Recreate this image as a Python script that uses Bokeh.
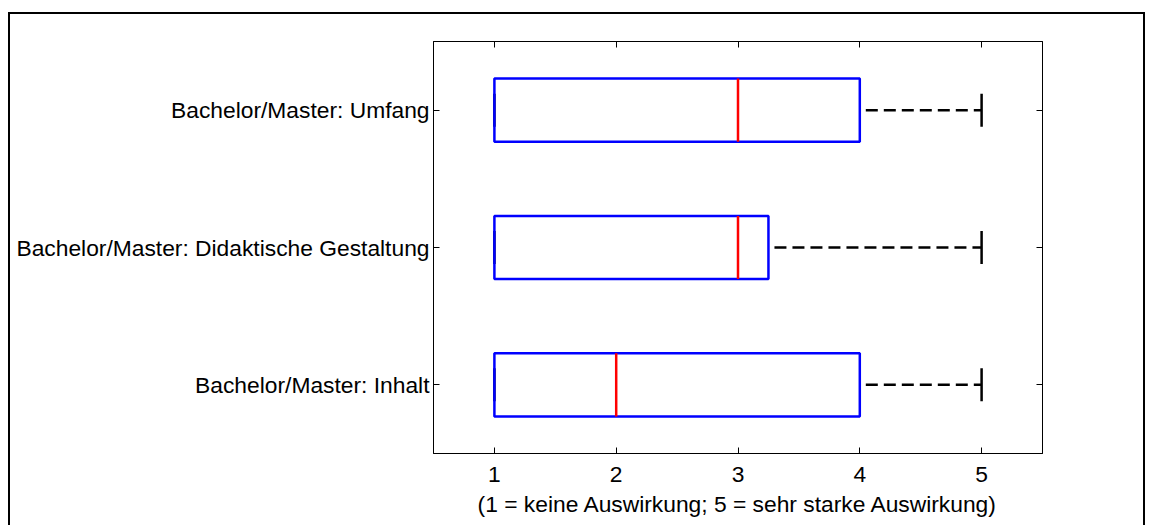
from bokeh.plotting import figure
from bokeh.models import Range1d, LinearAxis, FixedTicker, ColumnDataSource
from bokeh.embed import file_html
from bokeh.resources import INLINE

categories = ["Bachelor/Master: Inhalt",
              "Bachelor/Master: Didaktische Gestaltung",
              "Bachelor/Master: Umfang"]
q1 = [1, 1, 1]
median = [2, 3, 3]
q3 = [4, 3.25, 4]
whisker_lo = [1, 1, 1]
whisker_hi = [5, 5, 5]
x_ticks = [1, 2, 3, 4, 5]
x_label = "(1 = keine Auswirkung; 5 = sehr starke Auswirkung)"

FONT = "Liberation Sans"
FS = "22.8px"
BOX_H = 0.46
CAP_H = 0.24

y_pos = [i + 1 for i in range(len(categories))]
src = ColumnDataSource(dict(
    y=y_pos, q1=q1, med=median, q3=q3, lo=whisker_lo, hi=whisker_hi,
    yb0=[y - BOX_H / 2 for y in y_pos], yb1=[y + BOX_H / 2 for y in y_pos],
    yc0=[y - CAP_H / 2 for y in y_pos], yc1=[y + CAP_H / 2 for y in y_pos]))

p = figure(width=1137, height=513, output_backend="svg", toolbar_location=None,
           y_range=Range1d(0.5, len(categories) + 0.5), x_range=Range1d(0.5, 5.5),
           min_border_left=423, min_border_right=105, min_border_top=27, min_border_bottom=74,
           x_axis_location=None, y_axis_location=None)
p.styles = {"border-top": "2px solid black", "border-left": "2px solid black",
            "border-right": "2px solid black", "margin-top": "12px", "margin-left": "8px"}
p.grid.visible = False
p.outline_line_color = "black"
p.outline_line_width = 1
p.background_fill_color = "white"
p.border_fill_color = "white"

def style_axis(ax):
    ax.major_tick_in = 6
    ax.major_tick_out = 0
    ax.minor_tick_line_color = None
    ax.axis_line_color = "black"
    ax.major_tick_line_color = "black"
    ax.major_label_text_font = FONT
    ax.major_label_text_font_size = FS
    ax.major_label_text_color = "black"

xb = LinearAxis(ticker=FixedTicker(ticks=x_ticks))
style_axis(xb)
xb.major_label_standoff = 13
xb.axis_label = x_label
xb.axis_label_text_font = FONT
xb.axis_label_text_font_size = FS
xb.axis_label_text_font_style = "normal"
xb.axis_label_text_color = "black"
xb.axis_label_standoff = 6
p.add_layout(xb, "below")

xt = LinearAxis(ticker=FixedTicker(ticks=x_ticks))
style_axis(xt)
xt.major_label_overrides = {t: "" for t in x_ticks}
xt.major_label_standoff = 0
p.add_layout(xt, "above")

yl = LinearAxis(ticker=FixedTicker(ticks=y_pos))
style_axis(yl)
yl.major_label_overrides = {y: c for y, c in zip(y_pos, categories)}
yl.major_label_standoff = 4
p.add_layout(yl, "left")

yr = LinearAxis(ticker=FixedTicker(ticks=y_pos))
style_axis(yr)
yr.major_label_overrides = {y: "" for y in y_pos}
yr.major_label_standoff = 0
p.add_layout(yr, "right")

# whiskers (dashed)
p.segment(x0="q3", x1="hi", y0="y", y1="y", source=src, line_color="black",
          line_width=2.5, line_dash="12 6", line_dash_offset=12)
p.segment(x0="lo", x1="q1", y0="y", y1="y", source=src, line_color="black",
          line_width=2.5, line_dash="12 6")
# caps
p.segment(x0="hi", x1="hi", y0="yc0", y1="yc1", source=src, line_color="black", line_width=2.5)
p.segment(x0="lo", x1="lo", y0="yc0", y1="yc1", source=src, line_color="black", line_width=2.5)
# boxes
p.quad(left="q1", right="q3", bottom="yb0", top="yb1", source=src, fill_color=None,
       line_color="#0000FF", line_width=2.5)
# medians
p.segment(x0="med", x1="med", y0="yb0", y1="yb1", source=src, line_color="#FF0000", line_width=2.5)

open("out.html", "w").write(file_html(p, INLINE))
